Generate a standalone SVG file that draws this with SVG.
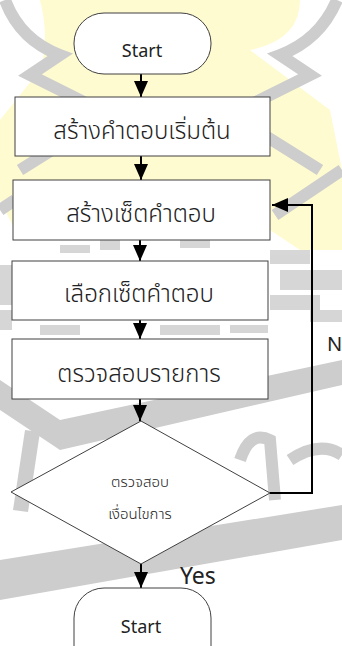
<svg xmlns="http://www.w3.org/2000/svg" width="342" height="646" viewBox="0 0 342 646">
<style>
.bx{fill:#fff;stroke:#404040;stroke-width:1}
.t{font-family:"Noto Sans Thai","Noto Sans","DejaVu Sans",sans-serif;fill:#222;text-anchor:middle;font-weight:300}
.e{font-family:"Noto Sans","Liberation Sans",sans-serif;fill:#222}
.c{stroke:#000;stroke-width:2;fill:none}
.g{fill:#cdcdcd}
.y{fill:#fffbd0}
.gs{stroke:#cdcdcd;fill:none}
</style>
<defs>
<marker id="ah" markerUnits="userSpaceOnUse" markerWidth="16" markerHeight="14" refX="16" refY="7" orient="auto">
<path d="M0,0 L16,7 L0,14 z" fill="#000"/>
</marker>
</defs>
<rect width="342" height="646" fill="#fff"/>
<g id="watermark">
<path class="y" d="M40,0 H300 Q300,40 250,50 L330,110 L342,170 V250 L300,250 L270,230 L15,230 L0,200 V120 L40,70 Q50,40 40,0 Z"/>
<path class="gs" stroke-width="12" d="M5,0 Q20,40 60,55 L30,75 L100,110 M337,0 Q320,40 280,55 L310,75 L240,110"/>
<path class="gs" stroke-width="12" d="M20,170 L100,120 M320,170 L240,120 M275,215 L342,170 M0,210 L15,200"/>
<g class="g" opacity="0.8">
<rect x="60" y="245" width="30" height="8"/><rect x="100" y="238" width="20" height="12"/><rect x="180" y="238" width="30" height="10"/>
<rect x="0" y="265" width="15" height="40"/><rect x="270" y="250" width="40" height="14"/><rect x="280" y="270" width="62" height="20"/>
<rect x="270" y="295" width="50" height="15"/><rect x="310" y="310" width="32" height="12"/>
<rect x="0" y="310" width="12" height="20"/><rect x="40" y="325" width="40" height="10"/><rect x="160" y="325" width="60" height="10"/>
<rect x="230" y="325" width="38" height="8"/>
</g>
<path class="g" d="M0,560 L342,505 V540 L0,600 Z"/>
<path class="g" d="M0,380 L60,420 L342,360 V385 L60,450 L0,410 Z"/>
<path class="g" d="M25,430 L40,432 L28,512 L13,510 Z"/>
<path class="gs" stroke-width="12" d="M240,460 Q250,430 270,440 L275,500 M290,460 Q320,440 342,455"/>
</g>
<g id="connectors">
<line class="c" x1="141" y1="74" x2="141" y2="97" marker-end="url(#ah)"/>
<line class="c" x1="141" y1="156" x2="141" y2="180" marker-end="url(#ah)"/>
<line class="c" x1="140" y1="240" x2="140" y2="261" marker-end="url(#ah)"/>
<line class="c" x1="140" y1="320" x2="140" y2="339" marker-end="url(#ah)"/>
<line class="c" x1="140" y1="399" x2="140" y2="421" marker-end="url(#ah)"/>
<line class="c" x1="141" y1="564" x2="141" y2="588" marker-end="url(#ah)"/>
<polyline class="c" points="270,493 312,493 312,205 272,205" marker-end="url(#ah)"/>
<text class="e" x="327" y="351" font-size="20">N</text>
<text class="e" x="180" y="584" font-size="23">Yes</text>
</g>
<g id="start">
<rect class="bx" x="74" y="13" width="137" height="61" rx="30"/>
<text class="e" x="142" y="57" font-size="18" text-anchor="middle">Start</text>
</g>
<g id="n1">
<rect class="bx" x="15" y="97" width="255" height="59"/>
<text class="t" x="142" y="139" font-size="24">สร้างคำตอบเริ่มต้น</text>
</g>
<g id="n2">
<rect class="bx" x="13" y="180" width="257" height="60"/>
<text class="t" x="141" y="222" font-size="24">สร้างเซ็ตคำตอบ</text>
</g>
<g id="n3">
<rect class="bx" x="12" y="261" width="256" height="59"/>
<text class="t" x="139" y="302" font-size="24">เลือกเซ็ตคำตอบ</text>
</g>
<g id="n4">
<rect class="bx" x="12" y="339" width="256" height="60"/>
<text class="t" x="139" y="382" font-size="24">ตรวจสอบรายการ</text>
</g>
<g id="decision">
<polygon class="bx" points="141,421 270,493 141,564 11,492"/>
<text class="t" x="140" y="487" font-size="15">ตรวจสอบ</text>
<text class="t" x="140" y="519" font-size="15">เงื่อนไขการ</text>
</g>
<g id="end">
<path class="bx" d="M74,646 V618 A30,30 0 0 1 104,588 H181 A30,30 0 0 1 211,618 V646"/>
<text class="e" x="141" y="633" font-size="18" text-anchor="middle">Start</text>
</g>
</svg>
